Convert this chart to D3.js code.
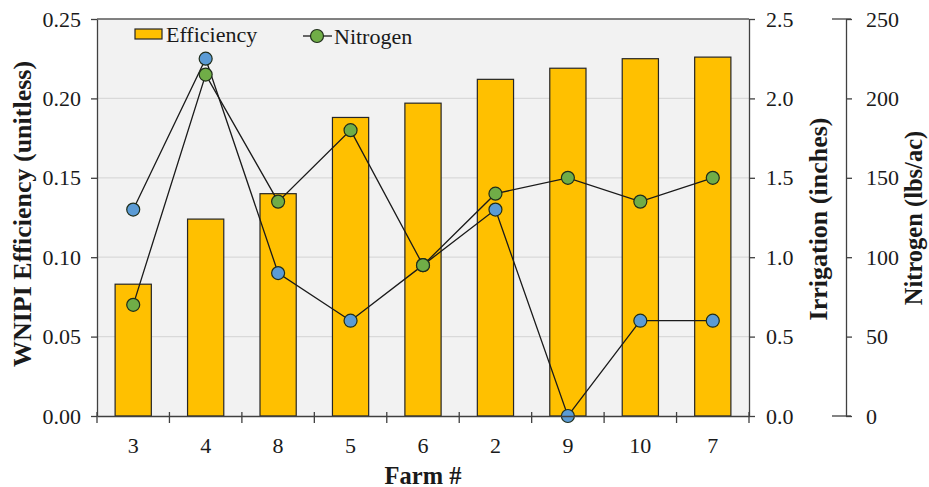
<!DOCTYPE html>
<html>
<head>
<meta charset="utf-8">
<script src="https://cdn.jsdelivr.net/npm/d3@7"></script>
<style>
  body { margin: 0; background: #fff; }
  text { font-family: "Liberation Serif", "Times New Roman", serif; fill: #1a1a1a; }
</style>
</head>
<body>
<script>
'use strict';

// chart data
const farms = ["3", "4", "8", "5", "6", "2", "9", "10", "7"];
const efficiency = [0.083, 0.124, 0.140, 0.188, 0.197, 0.212, 0.219, 0.225, 0.226];
const irrigation = [1.3, 2.25, 0.9, 0.6, 0.95, 1.3, 0.0, 0.6, 0.6];
const nitrogen = [70, 215, 135, 180, 95, 140, 150, 135, 150];

const effTicks = [0, 0.05, 0.10, 0.15, 0.20, 0.25];
const irrTicks = [0, 0.5, 1.0, 1.5, 2.0, 2.5];
const nitTicks = [0, 50, 100, 150, 200, 250];

(function() {
  const W = 929, H = 487;
  const left = 97, right = 749, top = 19, bottom = 416;
  const nAxisX = 846;

  const svg = d3.select('body').append('svg')
    .attr('width', W)
    .attr('height', H);

  const x = d3.scaleBand().domain(farms).range([left, right])
    .paddingInner(0.5).paddingOuter(0.25);
  const yEff = d3.scaleLinear().domain([0, 0.25]).range([bottom, top]);
  const yIrr = d3.scaleLinear().domain([0, 2.5]).range([bottom, top]);
  const yNit = d3.scaleLinear().domain([0, 250]).range([bottom, top]);

  // plot background
  svg.append('rect')
    .attr('x', left).attr('y', top)
    .attr('width', right - left).attr('height', bottom - top)
    .attr('fill', '#f2f2f2');

  // gridlines
  svg.append('g').selectAll('line')
    .data(effTicks.slice(1, -1))
    .enter().append('line')
    .attr('x1', left).attr('x2', right)
    .attr('y1', d => yEff(d)).attr('y2', d => yEff(d))
    .attr('stroke', '#d9d9d9').attr('stroke-width', 1.2);

  // frame top
  svg.append('line')
    .attr('x1', left).attr('x2', right)
    .attr('y1', top).attr('y2', top)
    .attr('stroke', '#595959').attr('stroke-width', 1.3);

  // bars
  svg.append('g').selectAll('rect')
    .data(farms)
    .enter().append('rect')
    .attr('x', d => x(d))
    .attr('width', x.bandwidth())
    .attr('y', (d, i) => yEff(efficiency[i]))
    .attr('height', (d, i) => bottom - yEff(efficiency[i]))
    .attr('fill', '#ffc000')
    .attr('stroke', '#262626')
    .attr('stroke-width', 1.2);

  const cx = d => x(d) + x.bandwidth() / 2;

  function series(vals, scale, color) {
    const line = d3.line()
      .x((d, i) => cx(farms[i]))
      .y(d => scale(d));
    svg.append('path')
      .attr('d', line(vals))
      .attr('fill', 'none')
      .attr('stroke', '#1a1a1a')
      .attr('stroke-width', 1.3);
    svg.append('g').selectAll('circle')
      .data(vals)
      .enter().append('circle')
      .attr('cx', (d, i) => cx(farms[i]))
      .attr('cy', d => scale(d))
      .attr('r', 6.5)
      .attr('fill', color)
      .attr('stroke', '#1f2d1a')
      .attr('stroke-width', 1.2);
  }
  series(irrigation, yIrr, '#5b9bd5');
  series(nitrogen, yNit, '#70ad47');

  // left axis
  const gL = svg.append('g')
    .attr('transform', `translate(${left},0)`)
    .call(d3.axisLeft(yEff).tickValues(effTicks).tickFormat(d3.format('.2f'))
      .tickSize(6).tickSizeOuter(0).tickPadding(10));
  // right axis (irrigation)
  const gR = svg.append('g')
    .attr('transform', `translate(${right},0)`)
    .call(d3.axisRight(yIrr).tickValues(irrTicks).tickFormat(d3.format('.1f'))
      .tickSize(6).tickSizeOuter(0).tickPadding(11));
  // nitrogen axis
  const gN = svg.append('g')
    .attr('transform', `translate(${nAxisX},0)`)
    .call(d3.axisRight(yNit).tickValues(nitTicks).tickFormat(d3.format('d'))
      .tickSize(6).tickSizeOuter(0).tickPadding(14));
  // end caps on nitrogen axis
  svg.append('g').selectAll('line')
    .data([0, 250])
    .enter().append('line')
    .attr('x1', nAxisX - 14).attr('x2', nAxisX + 5)
    .attr('y1', d => yNit(d)).attr('y2', d => yNit(d))
    .attr('stroke', '#404040').attr('stroke-width', 1.3);

  // bottom category axis
  const gB = svg.append('g')
    .attr('transform', `translate(0,${bottom})`)
    .call(d3.axisBottom(x).tickSize(0).tickPadding(21));
  gB.select('.domain').attr('stroke', '#404040').attr('stroke-width', 1.5);
  svg.append('g').selectAll('line')
    .data(d3.range(farms.length + 1))
    .enter().append('line')
    .attr('x1', i => left + i * x.step())
    .attr('x2', i => left + i * x.step())
    .attr('y1', bottom - 4).attr('y2', bottom + 7)
    .attr('stroke', '#404040').attr('stroke-width', 1.3);

  [gL, gR, gN, gB].forEach(g => {
    g.selectAll('text')
      .style('font-family', '"Liberation Serif", serif')
      .style('font-size', '22px')
      .attr('fill', '#1a1a1a');
    g.selectAll('.tick line').attr('stroke', '#404040').attr('stroke-width', 1.3);
  });
  [gL, gR, gN].forEach(g => g.select('.domain').attr('stroke', '#404040').attr('stroke-width', 1.3));

  // axis titles
  svg.append('text')
    .attr('transform', 'translate(22, 214)rotate(-90)')
    .attr('text-anchor', 'middle')
    .attr('dominant-baseline', 'central')
    .style('font-size', '26px').style('font-weight', 'bold')
    .text('WNIPI Efficiency (unitless)');
  svg.append('text')
    .attr('transform', 'translate(818, 219)rotate(-90)')
    .attr('text-anchor', 'middle')
    .attr('dominant-baseline', 'central')
    .style('font-size', '26px').style('font-weight', 'bold')
    .text('Irrigation (inches)');
  svg.append('text')
    .attr('transform', 'translate(913, 218)rotate(-90)')
    .attr('text-anchor', 'middle')
    .attr('dominant-baseline', 'central')
    .style('font-size', '24.5px').style('font-weight', 'bold')
    .text('Nitrogen (lbs/ac)');
  svg.append('text')
    .attr('x', (left + right) / 2)
    .attr('y', 475)
    .attr('text-anchor', 'middle')
    .attr('dominant-baseline', 'central')
    .style('font-size', '24.5px').style('font-weight', 'bold')
    .text('Farm #');

  // legend
  const lg = svg.append('g');
  lg.append('rect')
    .attr('x', 135).attr('y', 29).attr('width', 27).attr('height', 10)
    .attr('fill', '#ffc000').attr('stroke', '#262626').attr('stroke-width', 1.2);
  lg.append('text')
    .attr('x', 166).attr('y', 34)
    .attr('dominant-baseline', 'central')
    .style('font-size', '22px')
    .text('Efficiency');
  lg.append('line')
    .attr('x1', 303).attr('x2', 332).attr('y1', 36).attr('y2', 36)
    .attr('stroke', '#1a1a1a').attr('stroke-width', 1.3);
  lg.append('circle')
    .attr('cx', 317).attr('cy', 36).attr('r', 6.5)
    .attr('fill', '#70ad47').attr('stroke', '#1f2d1a').attr('stroke-width', 1.2);
  lg.append('text')
    .attr('x', 334).attr('y', 36)
    .attr('dominant-baseline', 'central')
    .style('font-size', '22px')
    .text('Nitrogen');
})();
</script>
</body>
</html>
